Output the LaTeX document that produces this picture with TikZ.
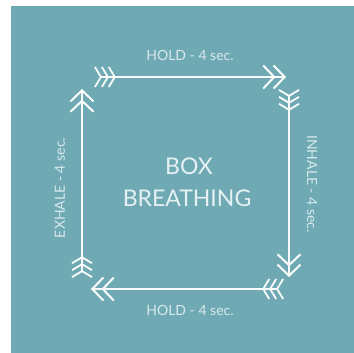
\documentclass[tikz,border=0pt]{standalone}
\usepackage{fontspec}
\setmainfont{Lato}
\usetikzlibrary{arrows.meta}
\definecolor{teal0}{HTML}{6FAAB4}
\definecolor{arrowwhite}{HTML}{FAFCFC}
\definecolor{labelwhite}{HTML}{D8E9EC}
\definecolor{titlewhite}{HTML}{E6F1F3}
\tikzset{
  fletch/.tip={Straight Barb[reversed,length=6pt,width=20pt,line width=1.8pt,sep=-1pt]},
  chevron/.tip={Straight Barb[length=11pt,width=23pt,line width=2pt,sep=-3pt]},
  boxarrow/.style={draw=arrowwhite,line width=2.4pt,{fletch[]fletch[]fletch[]}-{chevron[]chevron[]}},
  label/.style={text=labelwhite,font=\fontsize{14}{16}\selectfont,inner sep=0pt},
  title/.style={text=titlewhite,font=\fontsize{23}{32}\selectfont,align=center,inner sep=0pt},
  pt/.style={inner sep=0pt,minimum size=0pt}
}
\begin{document}
\begin{tikzpicture}[x=1pt,y=-1pt]
\useasboundingbox (0,0) rectangle (354,353);
\fill[white] (0,0) rectangle (354,353);
\fill[teal0] (11,6) rectangle (354,353);
% corner coordinates
\coordinate (tl) at (95,77);
\coordinate (tr) at (283,77);
\coordinate (rt) at (289,90);
\coordinate (rb) at (289,274);
\coordinate (br) at (283,289);
\coordinate (bl) at (94,289);
\coordinate (lb) at (82,277);
\coordinate (lt) at (82,92);
\draw[boxarrow] (tl) -- (tr);
\draw[boxarrow] (rt) -- (rb);
\draw[boxarrow] (br) -- (bl);
\draw[boxarrow] (lb) -- (lt);
\node[label] (holdtop) at (190,55) {HOLD - 4 sec.};
\node[label] (holdbot) at (190,310) {HOLD - 4 sec.};
\node[label,rotate=-90] (inhale) at (312,184) {INHALE - 4 sec.};
\node[label,rotate=90] (exhale) at (60,188) {EXHALE - 4 sec.};
\node[title] (box) at (189,166) {BOX};
\node[title] (breath) at (187,198) {BREATHING};
\end{tikzpicture}
\end{document}
